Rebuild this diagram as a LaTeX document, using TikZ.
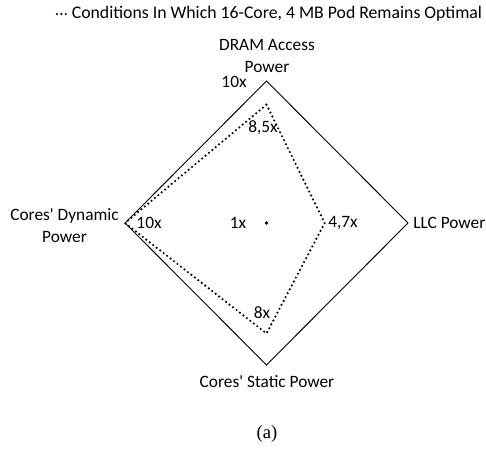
\documentclass[tikz,border=0pt]{standalone}
\usepackage{fontspec}
\setmainfont{Carlito}
\newfontfamily\captionfont{Liberation Serif}
\usetikzlibrary{calc,positioning}
\tikzset{
    %Define style for the outer frame
    frame/.style={
           draw=black,
           line width=0.7pt,
           line join=miter},
    %Define style for the optimal region
    optline/.style={
           draw=black,
           line width=1.8pt,
           line cap=round,
           dash pattern=on 0pt off 3.3pt},
    %Define style for the axis labels
    axislabel/.style={
           align=center,
           inner sep=0pt,
           font=\fontsize{13}{16.5}\selectfont},
    % Define style for value labels
    value/.style={
           inner sep=0pt,
           font=\fontsize{13}{15}\selectfont}
}
\begin{document}
\begin{tikzpicture}[x=0.75pt,y=-0.75pt]
    \useasboundingbox (0,0) rectangle (486,462);
    \coordinate (centre) at (266.5,223);
    \coordinate (dram) at (266.5,81);
    \coordinate (llc) at (408,223);
    \coordinate (static) at (266.5,365);
    \coordinate (dynamic) at (125,223);
    \draw[frame] (dram) -- (llc) -- (static) -- (dynamic) -- cycle;
    \coordinate (dramopt) at ($(centre)!7.5/9!(dram)$);
    \coordinate (llcopt) at ($(centre)!3.7/9!(llc)$);
    \coordinate (staticopt) at ($(centre)!7/9!(static)$);
    \coordinate (dynamicopt) at ($(centre)!9/9!(dynamic)$);
    \draw[optline] (dramopt) -- (llcopt) -- (staticopt) -- (dynamicopt) -- cycle;
    \fill (centre) circle (1.8);
    \node (title) [axislabel,font=\fontsize{13.3}{16}\selectfont] at (277,14)
          {Conditions In Which 16-Core, 4 MB Pod Remains Optimal};
    \coordinate (legend) at ([xshift=-11pt]title.west);
    \draw[optline] (legend) -- ++(9.5,0);
    \node (dramlabel) [axislabel] at (267,56) {DRAM Access\\Power};
    \node (llclabel) [axislabel,anchor=west] at (413,223) {LLC Power};
    \node (staticlabel) [axislabel] at (267,382) {Cores\textquotesingle{} Static Power};
    \node (dynamiclabel) [axislabel,anchor=east] at (119,226) {Cores\textquotesingle{} Dynamic\\Power};
    \node (dramtop) [value] at (234,82) {10x};
    \node (dramval) [value] at (263,128) {8,5x};
    \node (llcval) [value] at (343,223) {4,7x};
    \node (staticval) [value] at (262,313) {8x};
    \node (dynamicval) [value] at (149,223) {10x};
    \node (centreval) [value] at (238,223) {1x};
    \node (caption) [value,font=\captionfont\fontsize{14}{16}\selectfont] at (267,434) {(a)};
\end{tikzpicture}
\end{document}
